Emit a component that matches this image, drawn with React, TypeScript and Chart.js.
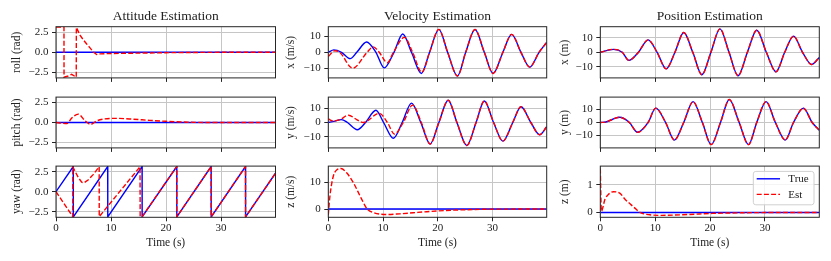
import { useEffect, useRef } from 'react';
import { Chart, registerables } from 'chart.js';

Chart.register(...registerables);

const FONT = "'Liberation Serif', 'Times New Roman', serif";
const TEXT = '#222222';
const GRID = '#c6c6c6';
const FRAME = '#262626';
const TRUE_COLOR = '#0000ff';
const EST_COLOR = '#ff0000';

// ---------- data (time in s) ----------
const T_MAX = 39.9;
const timeTicks = [0, 10, 20, 30];

const titles = ['Attitude Estimation', 'Velocity Estimation', 'Position Estimation'];
const xTitle = 'Time (s)';
const legendLabels = ['True', 'Est'];

const attTicks = [-2.5, 0, 2.5];
const velTicks = [-10, 0, 10];
const velZTicks = [0, 10];
const posTicks = [-10, 0, 10];
const posZTicks = [0, 1];

const flatT = [0, 39.9];
const flatV = [0, 0];

// roll
const rollEstT = [0, 1.45, 1.46, 2.2, 2.85, 3.5, 3.68, 3.7, 4.36, 4.97, 5.58, 6.18, 6.79, 7.4, 8.0, 10, 15, 20, 25, 30, 39.9];
const rollEstV = [3.14, 3.14, -3.1, -2.95, -2.75, -3.03, -3.1, 3.1, 2.14, 1.55, 1.03, 0.55, 0.03, -0.28, -0.2, -0.15, -0.1, -0.05, -0.02, 0, 0];

// pitch
const pitchEstT = [0, 1.0, 2.0, 2.85, 4.06, 5.3, 6.3, 7.4, 8.6, 10.7, 14, 17, 20, 24, 30, 39.9];
const pitchEstV = [0, -0.08, -0.12, 0.55, 1.05, 0.2, -0.23, 0.2, 0.43, 0.52, 0.42, 0.27, 0.15, 0.04, 0, 0];

// yaw
const yawTrueT = [0, 3.14, 3.15, 9.4, 9.41, 15.65, 15.66, 21.95, 21.96, 28.2, 28.21, 34.45, 34.46, 39.9];
const yawTrueV = [0, 3.14, -3.14, 3.14, -3.14, 3.14, -3.14, 3.14, -3.14, 3.14, -3.14, 3.14, -3.14, 2.3];
const yawEstT = [0, 3.05, 3.06, 3.45, 4.06, 4.67, 5.09, 5.88, 6.79, 7.7, 7.85, 7.86, 15.27, 15.3, 15.66, 21.95, 21.96, 28.2, 28.21, 34.45, 34.46, 39.9];
const yawEstV = [0, -3.1, 3.1, 2.55, 1.76, 1.18, 1.1, 1.49, 2.16, 2.98, 3.1, -3.1, 3.1, -3.12, -3.1, 3.14, -3.14, 3.14, -3.14, 3.14, -3.14, 2.3];

// velocity x
const velXTrueT = [0, 1.0, 2.4, 4.0, 5.2, 7.0, 8.7, 10.2, 12.0, 13.6, 15.2, 17.0, 18.5, 20.2, 21.8, 23.6, 25.1, 26.8, 28.5, 30.1, 31.9, 33.5, 35.2, 36.8, 38.5, 39.9];
const velXTrueV = [0, 1.5, 0, -4.0, 0, 6.5, 0, -9.8, 0, 11.5, 0, -13.3, 0, 14.4, 0, -14.9, 0, 14.3, 0, -13.3, 0, 11.3, 0, -9.3, 0, 6.2];
const velXEstT = [0, 1.2, 2.1, 4.45, 7.1, 8.2, 9.3, 10.8, 11.9, 13.9, 15.4, 17.1, 18.5, 20.2, 21.8, 23.6, 25.1, 26.8, 28.5, 30.1, 31.9, 33.5, 35.2, 36.8, 38.5, 39.9];
const velXEstV = [-2.6, 1.0, 0, -10.0, 0, 3.4, 0, -6.6, 0, 9.4, 0, -12.6, 0, 14.4, 0, -14.9, 0, 14.3, 0, -13.3, 0, 11.3, 0, -9.3, 0, 6.2];

// velocity y
const velYTrueT = [0, 1.0, 2.4, 3.5, 5.3, 6.8, 8.7, 10.1, 11.9, 13.5, 15.2, 16.9, 18.6, 20.2, 21.9, 23.5, 25.3, 27.0, 28.5, 30.2, 31.9, 33.7, 35.2, 37.0, 38.6, 39.9];
const velYTrueV = [0, 0.8, 2.0, 0, -5.0, 0, 8.5, 0, -11.0, 0, 13.5, 0, -15.0, 0, 15.5, 0, -16.0, 0, 15.0, 0, -13.0, 0, 11.0, 0, -8.5, -3.0];
const velYEstT = [0, 0.9, 2.1, 3.7, 5.2, 6.4, 9.3, 10.8, 12.1, 13.7, 15.4, 17.0, 18.6, 20.2, 21.9, 23.5, 25.3, 27.0, 28.5, 30.2, 31.9, 33.7, 35.2, 37.0, 38.6, 39.9];
const velYEstV = [2.5, 1.0, 2.0, 5.1, 2.0, 0, 6.4, 0, -8.1, 0, 12.1, 0, -15.0, 0, 15.5, 0, -16.0, 0, 15.0, 0, -13.0, 0, 11.0, 0, -8.5, -3.0];

// velocity z
const velZEstT = [0, 0.3, 0.9, 1.5, 2.3, 3.35, 4.6, 5.8, 6.7, 7.1, 8.2, 10.7, 13, 15.5, 18, 20, 25.3, 30, 39.9];
const velZEstV = [-2.2, 4.9, 12.2, 14.6, 15.2, 13.6, 9.8, 4.9, 1.3, 0, -1.3, -2.05, -1.8, -1.4, -1.0, -0.7, -0.25, -0.05, 0];

// position x
const posXT = [0, 2.4, 4.0, 5.2, 6.95, 8.7, 10.35, 12.0, 13.6, 15.2, 16.85, 18.5, 20.15, 21.8, 23.45, 25.1, 26.8, 28.5, 30.25, 32.0, 33.6, 35.2, 36.85, 38.5, 39.9];
const posXV = [0, 2.0, 0, -5.5, 0, 8.5, 0, -11.3, 0, 13.5, 0, -15.3, 0, 16.0, 0, -16.0, 0, 15.0, 0, -13.3, 0, 11.0, 0, -8.3, -3.5];

// position y
const posYT = [0, 1.0, 3.5, 5.3, 6.8, 8.7, 10.1, 11.9, 13.5, 15.2, 16.9, 18.6, 20.2, 21.9, 23.5, 25.3, 27.0, 28.5, 30.2, 31.9, 33.7, 35.2, 37.0, 38.6, 39.9];
const posYV = [0, 0.4, 4.0, 0, -7.5, 0, 11.0, 0, -13.5, 0, 16.0, 0, -17.0, 0, 17.7, 0, -17.0, 0, 16.0, 0, -13.5, 0, 11.0, 0, -6.0];

// position z
const posZEstT = [0, 0.2, 0.85, 1.46, 2.4, 3.6, 4.5, 5.5, 6.3, 7.3, 9.0, 11.2, 16.0, 20.4, 25.0, 30.0, 39.9];
const posZEstV = [1.58, 0.05, 0.48, 0.65, 0.75, 0.69, 0.48, 0.3, 0.16, 0, -0.08, -0.1, -0.07, -0.03, -0.01, 0, 0];

// ---------- layout ----------
const COLS = [
  { left: 10, yW: 46, plotW: 219.5, width: 272 },
  { left: 284, yW: 44.3, plotW: 218.4, width: 269 },
  { left: 558, yW: 42.3, plotW: 219, width: 268 },
];
const ROWS = [
  { top: 0, padTop: 0, plotH: 53.3, xH: 5, height: 88 },
  { top: 87, padTop: 8, plotH: 54.3, xH: 5, height: 71 },
  { top: 156, padTop: 8, plotH: 53.3, xH: 32.9, height: 96 },
];

const minus = (s: string) => s.replace('-', '\u2212');
const fmt1 = (v: number) => minus(v.toFixed(1));
const fmt0 = (v: number) => minus(Math.round(v).toString());

type Series = { t: number[]; v: number[]; smooth: boolean };
type Panel = {
  col: number; row: number; label: string; min: number; max: number; ticks: number[];
  fmt: (v: number) => string; tru: Series; est: Series; legend?: boolean;
};

const PANELS: Panel[] = [
  { col: 0, row: 0, label: 'roll (rad)', min: -3.19, max: 3.19, ticks: attTicks, fmt: fmt1,
    tru: { t: flatT, v: flatV, smooth: false }, est: { t: rollEstT, v: rollEstV, smooth: false } },
  { col: 0, row: 1, label: 'pitch (rad)', min: -3.19, max: 3.19, ticks: attTicks, fmt: fmt1,
    tru: { t: flatT, v: flatV, smooth: false }, est: { t: pitchEstT, v: pitchEstV, smooth: true } },
  { col: 0, row: 2, label: 'yaw (rad)', min: -3.19, max: 3.19, ticks: attTicks, fmt: fmt1,
    tru: { t: yawTrueT, v: yawTrueV, smooth: false }, est: { t: yawEstT, v: yawEstV, smooth: false } },
  { col: 1, row: 0, label: 'x (m/s)', min: -16.1, max: 16.1, ticks: velTicks, fmt: fmt0,
    tru: { t: velXTrueT, v: velXTrueV, smooth: true }, est: { t: velXEstT, v: velXEstV, smooth: true } },
  { col: 1, row: 1, label: 'y (m/s)', min: -17.7, max: 17.7, ticks: velTicks, fmt: fmt0,
    tru: { t: velYTrueT, v: velYTrueV, smooth: true }, est: { t: velYEstT, v: velYEstV, smooth: true } },
  { col: 1, row: 2, label: 'z (m/s)', min: -3.1, max: 16.1, ticks: velZTicks, fmt: fmt0,
    tru: { t: flatT, v: flatV, smooth: false }, est: { t: velZEstT, v: velZEstV, smooth: true } },
  { col: 2, row: 0, label: 'x (m)', min: -17.45, max: 17.45, ticks: posTicks, fmt: fmt0,
    tru: { t: posXT, v: posXV, smooth: true }, est: { t: posXT, v: posXV, smooth: true } },
  { col: 2, row: 1, label: 'y (m)', min: -19.5, max: 19.5, ticks: posTicks, fmt: fmt0,
    tru: { t: posYT, v: posYV, smooth: true }, est: { t: posYT, v: posYV, smooth: true } },
  { col: 2, row: 2, label: 'z (m)', min: -0.17, max: 1.67, ticks: posZTicks, fmt: fmt0,
    tru: { t: flatT, v: flatV, smooth: false }, est: { t: posZEstT, v: posZEstV, smooth: true }, legend: true },
];

const toPoints = (s: Series) => s.t.map((x, i) => ({ x, y: s.v[i] }));

const framePlugin = {
  id: 'frameAndLegend',
  afterDatasetsDraw(chart: any, _args: any, opts: any) {
    const { ctx, chartArea: a } = chart;
    ctx.save();
    ctx.strokeStyle = FRAME;
    ctx.lineWidth = 1;
    ctx.strokeRect(a.left, a.top, a.right - a.left, a.bottom - a.top);
    if (opts && opts.legend) {
      const w = 60.7, h = 33.4;
      const x0 = a.right - 5.3 - w, y0 = a.top + 5.3;
      const r = 2.5;
      ctx.beginPath();
      ctx.moveTo(x0 + r, y0);
      ctx.arcTo(x0 + w, y0, x0 + w, y0 + h, r);
      ctx.arcTo(x0 + w, y0 + h, x0, y0 + h, r);
      ctx.arcTo(x0, y0 + h, x0, y0, r);
      ctx.arcTo(x0, y0, x0 + w, y0, r);
      ctx.closePath();
      ctx.fillStyle = 'rgba(255,255,255,0.8)';
      ctx.fill();
      ctx.strokeStyle = '#d0d0d0';
      ctx.lineWidth = 1;
      ctx.stroke();
      const rowsY = [y0 + 7.4, y0 + 23];
      const colors = [TRUE_COLOR, EST_COLOR];
      for (let i = 0; i < 2; i++) {
        ctx.beginPath();
        ctx.strokeStyle = colors[i];
        ctx.lineWidth = 1.4;
        ctx.setLineDash(i === 1 ? [5, 2.2] : []);
        ctx.moveTo(x0 + 3.4, rowsY[i]);
        ctx.lineTo(x0 + 26.7, rowsY[i]);
        ctx.stroke();
        ctx.setLineDash([]);
        ctx.fillStyle = TEXT;
        ctx.font = `11px ${FONT}`;
        ctx.textBaseline = 'middle';
        ctx.textAlign = 'left';
        ctx.fillText(legendLabels[i], x0 + 35, rowsY[i] + 0.5);
      }
    }
    ctx.restore();
  },
};

export default function App() {
  const refs = useRef<(HTMLCanvasElement | null)[]>([]);

  useEffect(() => {
    const charts: Chart[] = [];
    PANELS.forEach((p, idx) => {
      const canvas = refs.current[idx];
      if (!canvas) return;
      const c = COLS[p.col];
      const r = ROWS[p.row];
      const padRight = c.width - c.yW - c.plotW;
      const padBottom = r.height - (p.row === 0 ? 26.7 : r.padTop) - r.plotH - r.xH;
      const isBottom = p.row === 2;
      const mk = (s: Series, color: string, dashed: boolean) => ({
        data: toPoints(s),
        borderColor: color,
        borderWidth: 1.4,
        borderDash: dashed ? [5, 2.2] : [],
        pointRadius: 0,
        fill: false,
        tension: 0,
        cubicInterpolationMode: s.smooth ? 'monotone' : 'default',
      });
      const chart = new Chart(canvas, {
        type: 'line',
        data: { datasets: [mk(p.est, EST_COLOR, true), mk(p.tru, TRUE_COLOR, false)] as any },
        plugins: [framePlugin as any],
        options: {
          responsive: false,
          maintainAspectRatio: false,
          animation: false,
          events: [],
          layout: { padding: { top: r.padTop, right: padRight, bottom: padBottom, left: 0 } },
          plugins: {
            legend: { display: false },
            tooltip: { enabled: false },
            title: {
              display: p.row === 0,
              text: titles[p.col],
              fullSize: false,
              color: TEXT,
              font: { family: FONT, size: 13.5, weight: 'normal', lineHeight: 1.2 },
              padding: { top: 8.4, bottom: 2.1 },
            },
            frameAndLegend: { legend: !!p.legend },
          } as any,
          scales: {
            x: {
              type: 'linear',
              min: 0,
              max: T_MAX,
              bounds: 'data',
              afterFit: (s: any) => { s.height = r.xH; },
              afterBuildTicks: (s: any) => { s.ticks = timeTicks.map((value) => ({ value })); },
              border: { display: false },
              grid: { color: GRID, lineWidth: 1, drawTicks: true, tickLength: 4, tickColor: FRAME, tickWidth: 1 },
              ticks: {
                display: isBottom,
                maxRotation: 0,
                autoSkip: false,
                padding: 0,
                color: TEXT,
                font: { family: FONT, size: 11, lineHeight: 1.2 },
                callback: (v: any) => fmt0(Number(v)),
              },
              title: {
                display: isBottom,
                text: xTitle,
                color: TEXT,
                padding: 0,
                font: { family: FONT, size: 11.5, lineHeight: 1.2 },
              },
            },
            y: {
              type: 'linear',
              min: p.min,
              max: p.max,
              bounds: 'data',
              afterFit: (s: any) => { s.width = c.yW; },
              afterBuildTicks: (s: any) => { s.ticks = p.ticks.map((value) => ({ value })); },
              border: { display: false },
              grid: { color: GRID, lineWidth: 1, drawTicks: true, tickLength: 4, tickColor: FRAME, tickWidth: 1 },
              ticks: {
                autoSkip: false,
                padding: 3.5,
                color: TEXT,
                font: { family: FONT, size: 11, lineHeight: 1.2 },
                callback: (v: any) => p.fmt(Number(v)),
              },
              title: {
                display: true,
                text: p.label,
                color: TEXT,
                padding: 0,
                font: { family: FONT, size: 11.5, lineHeight: 1.2 },
              },
            },
          },
        } as any,
      });
      charts.push(chart);
    });
    return () => charts.forEach((ch) => ch.destroy());
  }, []);

  return (
    <div style={{ position: 'absolute', left: 0, top: 0, width: 831, height: 261, background: '#ffffff', overflow: 'hidden' }}>
      {PANELS.map((p, i) => {
        const c = COLS[p.col];
        const r = ROWS[p.row];
        return (
          <canvas
            key={i}
            ref={(el) => { refs.current[i] = el; }}
            width={c.width}
            height={r.height}
            style={{ position: 'absolute', left: c.left, top: r.top, width: c.width, height: r.height }}
          />
        );
      })}
    </div>
  );
}
